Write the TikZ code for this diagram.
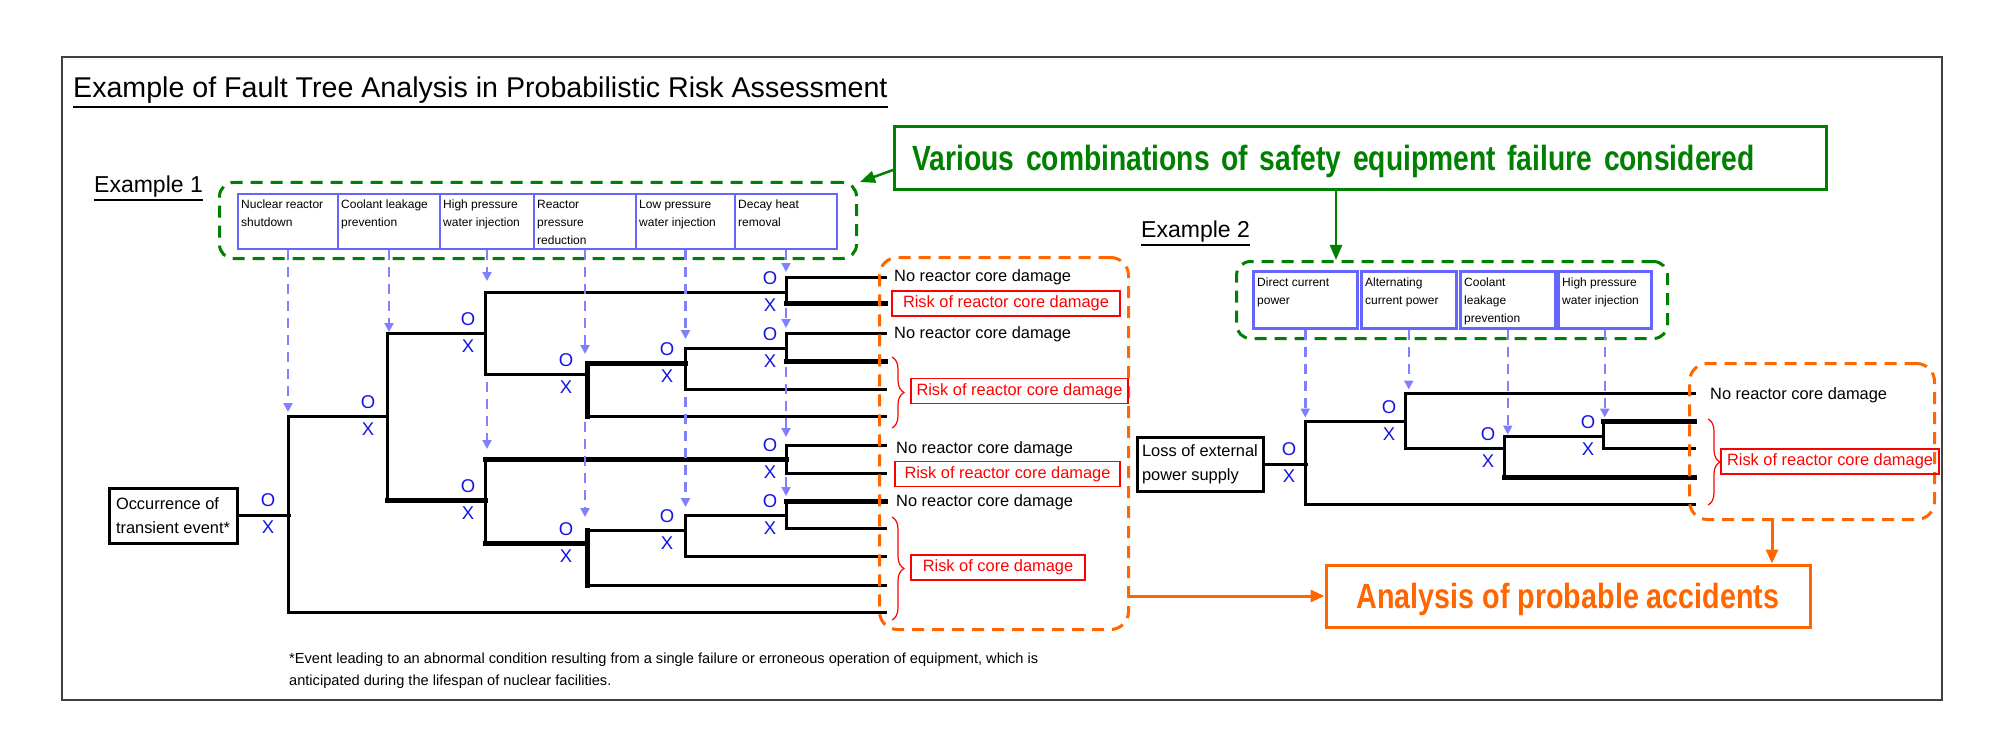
\documentclass[tikz,border=0pt]{standalone}
\usepackage{fontspec}
\setmainfont{Liberation Sans}
\newfontfamily\narrowfont[FakeStretch=0.82]{Liberation Sans}
\newfontfamily\bannerfont[FakeStretch=0.807]{Liberation Sans}
\usetikzlibrary{arrows.meta,decorations.pathreplacing,calc}
\definecolor{boxblue}{RGB}{102,102,255}
\definecolor{oxblue}{RGB}{20,20,230}
\definecolor{arrblue}{RGB}{128,128,255}
\definecolor{dgreen}{RGB}{0,128,0}
\definecolor{orng}{RGB}{255,102,0}
\definecolor{framec}{RGB}{64,64,64}
\newcommand\OXpair[3]{\node[ox] (#1o) at (#2,#3-14) {O};\node[ox] (#1x) at (#2,#3+13) {X};}
\begin{document}
\begin{tikzpicture}[x=1pt,y=-1pt,
  tree/.style={line width=3pt,line cap=rect},
  heavy/.style={line width=5pt,line cap=rect},
  ox/.style={text=oxblue,font=\fontsize{18.5}{18.5}\selectfont,inner sep=0pt},
  barr/.style={draw=arrblue,line width=2.5pt,dash pattern=on 10pt off 7pt,-{Triangle[length=9pt,width=9pt]}},
  bbox/.style={draw=boxblue,line width=2pt,anchor=north west,minimum height=55pt,inner sep=0pt},
  cbox/.style={draw=boxblue,line width=2.5pt,anchor=north west,minimum height=57pt,inner sep=0pt},
  btxt/.style={anchor=north west,align=left,inner sep=0pt,font=\fontsize{12}{18}\selectfont},
  lab/.style={anchor=base west,inner sep=0pt,font=\fontsize{16.4}{20}\selectfont},
  rbox/.style={draw=red,line width=1.5pt,text=red,inner sep=0pt,minimum height=25pt,font=\fontsize{16.4}{20}\selectfont},
  gdash/.style={draw=dgreen,line width=3pt,dash pattern=on 12pt off 8pt,rounded corners=14pt,anchor=north west,inner sep=0pt},
  odash/.style={draw=orng,line width=3pt,dash pattern=on 12pt off 8pt,rounded corners=18pt,anchor=north west,inner sep=0pt},
  brc/.style={draw=red,line width=1.2pt,decorate,decoration={brace,amplitude=12pt}},
  blkbox/.style={draw,line width=3pt,align=left,inner sep=0pt,font=\fontsize{16.4}{24}\selectfont},
  garr/.style={draw=dgreen,line width=2.5pt,-{Triangle[length=15pt,width=12pt]}},
  oarr/.style={draw=orng,line width=3pt,-{Triangle[length=14pt,width=12pt]}},
  uline/.style={line width=1.8pt}
]
\useasboundingbox (0,0) rectangle (2000,754);
\fill[white] (0,0) rectangle (2000,754);
\draw[framec,line width=2.5pt] (62,57) rectangle (1942,700);

% ---------- headings ----------
\node[anchor=base west,inner sep=0pt,font=\fontsize{28.6}{34}\selectfont] (title) at (73,98) {Example of Fault Tree Analysis in Probabilistic Risk Assessment};
\draw[uline] ($(title.south west)+(0,3)$) -- ($(title.south east)+(0,3)$);
\node[anchor=base west,inner sep=0pt,font=\fontsize{23}{28}\selectfont] (ex1) at (94,193) {Example 1};
\draw[uline] ($(ex1.south west)+(0,2)$) -- ($(ex1.south east)+(0,2)$);
\node[anchor=base west,inner sep=0pt,font=\fontsize{23}{28}\selectfont] (ex2) at (1141,238) {Example 2};
\draw[uline] ($(ex2.south west)+(0,2)$) -- ($(ex2.south east)+(0,2)$);

% ---------- banner ----------
\node[draw=dgreen,line width=3pt,anchor=north west,minimum height=63pt,text width=896pt,inner xsep=18pt,inner ysep=0pt,align=left,text depth=0pt,text=dgreen,font=\bannerfont\bfseries\fontsize{35}{40}\selectfont] (banner) at (893,125) {\mbox{Various combinations of safety equipment failure considered}};

% ---------- example 1 boxes ----------
\node[gdash,minimum width=637pt,minimum height=76pt] (g1) at (218,181) {};
\node[bbox,minimum width=100pt] (b1) at (237,193) {};
\node[bbox,minimum width=102pt] (b2) at (337,193) {};
\node[bbox,minimum width=94pt]  (b3) at (439,193) {};
\node[bbox,minimum width=102pt] (b4) at (533,193) {};
\node[bbox,minimum width=99pt]  (b5) at (635,193) {};
\node[bbox,minimum width=102pt] (b6) at (734,193) {};
\node[btxt] (t1) at ($(b1.north west)+(4,7)$) {Nuclear reactor\\shutdown};
\node[btxt] (t2) at ($(b2.north west)+(4,7)$) {Coolant leakage\\prevention};
\node[btxt] (t3) at ($(b3.north west)+(4,7)$) {High pressure\\water injection};
\node[btxt] (t4) at ($(b4.north west)+(4,7)$) {Reactor\\pressure\\reduction};
\node[btxt] (t5) at ($(b5.north west)+(4,7)$) {Low pressure\\water injection};
\node[btxt] (t6) at ($(b6.north west)+(4,7)$) {Decay heat\\removal};

% ---------- example 1 tree ----------
\node[blkbox,minimum width=128pt,minimum height=55pt] (occ) at (173,515.5) {Occurrence of\\transient event*};
\draw[tree] (occ.east) -- ++(51,0);
\draw[tree] (288,416) -- (288,612);
\draw[tree] (288,416) -- (387,416);
\draw[tree] (288,612) -- (885,612);
\draw[tree] (387,333) -- (387,500);
\draw[tree] (387,333) -- (485,333);
\draw[tree] (485,292) -- (485,374);
\draw[tree] (485,292) -- (786,292);
\draw[tree] (485,374) -- (587,374);
\draw[tree] (587,416) -- (885,416);
\draw[tree] (685,348) -- (685,389);
\draw[tree] (685,348) -- (786,348);
\draw[tree] (685,389) -- (885,389);
\draw[tree] (786,277) -- (786,303);
\draw[tree] (786,277) -- (885,277);
\draw[tree] (786,333) -- (786,361);
\draw[tree] (786,333) -- (885,333);
\draw[tree] (485,459) -- (485,543);
\draw[tree] (786,445) -- (786,473);
\draw[tree] (786,445) -- (885,445);
\draw[tree] (786,473) -- (885,473);
\draw[tree] (587,530) -- (685,530);
\draw[tree] (587,585) -- (885,585);
\draw[tree] (685,515) -- (685,556);
\draw[tree] (685,515) -- (786,515);
\draw[tree] (685,556) -- (885,556);
\draw[tree] (786,501) -- (786,528);
\draw[tree] (786,528) -- (885,528);
\draw[heavy] (387,500) -- (485,500);
\draw[heavy] (587,363) -- (587,416);
\draw[heavy] (587,363) -- (685,363);
\draw[heavy] (485,459) -- (786,459);
\draw[heavy] (485,543) -- (587,543);
\draw[heavy] (587,530) -- (587,585);
\draw[heavy] (786,303) -- (885,303);
\draw[heavy] (786,361) -- (885,361);
\draw[heavy] (786,501) -- (885,501);

\OXpair{r}{268}{514}
\OXpair{a}{368}{416}
\OXpair{ba}{468}{333}
\OXpair{bb}{468}{500}
\OXpair{ca}{566}{374}
\OXpair{cb}{566}{543}
\OXpair{da}{667}{363}
\OXpair{db}{667}{530}
\OXpair{ea}{770}{292}
\OXpair{eb}{770}{348}
\OXpair{ec}{770}{459}
\OXpair{ed}{770}{515}

% blue dashed arrows example 1
\draw[barr] (b1.south) -- ++(0,162);
\draw[barr] (b2.south) -- ++(0,82);
\draw[barr] (b3.south) -- ++(0,31);
\draw[barr] ($(b3.south)+(0,132)$) -- ++(0,67);
\draw[barr] (b4.south) -- ++(0,104);
\draw[barr] ($(b4.south)+(0,172)$) -- ++(0,95);
\draw[barr] (b5.south) -- ++(0,89);
\draw[barr] ($(b5.south)+(0,147)$) -- ++(0,110);
\draw[barr] (b6.south) -- ++(0,22);
\draw[barr] ($(b6.south)+(0,58)$) -- ++(0,20);
\draw[barr] ($(b6.south)+(0,117)$) -- ++(0,70);
\draw[barr] ($(b6.south)+(0,227)$) -- ++(0,19);

% outcomes example 1
\node[odash,minimum width=249pt,minimum height=372pt] (o1) at (878,256) {};
\node[lab] (n1) at (894,281) {No reactor core damage};
\node[rbox,minimum width=228pt] (r1) at (1006,303.5) {Risk of reactor core damage};
\node[lab] (n2) at (894,338) {No reactor core damage};
\draw[brc] (892,357) -- (892,428);
\node[rbox,minimum width=217pt] (r2) at (1019.5,391) {Risk of reactor core damage};
\node[lab] (n3) at (896,453) {No reactor core damage};
\node[rbox,minimum width=225pt] (r3) at (1007.5,474) {Risk of reactor core damage};
\node[lab] (n4) at (896,506) {No reactor core damage};
\draw[brc] (892,517) -- (892,620);
\node[rbox,minimum width=174pt] (r4) at (998,567.5) {Risk of core damage};

% ---------- example 2 ----------
\node[gdash,minimum width=431pt,minimum height=77pt] (g2) at (1235,260) {};
\node[cbox,minimum width=104pt] (c1) at (1252,270) {};
\node[cbox,minimum width=95pt]  (c2) at (1360,270) {};
\node[cbox,minimum width=95pt]  (c3) at (1459,270) {};
\node[cbox,minimum width=93pt]  (c4) at (1557,270) {};
\node[btxt] (s1) at ($(c1.north west)+(5,8)$) {Direct current\\power};
\node[btxt] (s2) at ($(c2.north west)+(5,8)$) {Alternating\\current power};
\node[btxt] (s3) at ($(c3.north west)+(5,8)$) {Coolant\\leakage\\prevention};
\node[btxt] (s4) at ($(c4.north west)+(5,8)$) {High pressure\\water injection};

\node[blkbox,minimum width=126pt,minimum height=54pt] (loss) at (1200,464) {Loss of external\\power supply};
\draw[tree] (loss.east) -- ++(42,0);
\draw[tree] (1305,421) -- (1305,504);
\draw[tree] (1305,421) -- (1405,421);
\draw[tree] (1305,504) -- (1694,504);
\draw[tree] (1405,393) -- (1405,448);
\draw[tree] (1405,393) -- (1694,393);
\draw[tree] (1405,448) -- (1504,448);
\draw[tree] (1504,436) -- (1504,477);
\draw[tree] (1504,436) -- (1603,436);
\draw[tree] (1603,421) -- (1603,448);
\draw[tree] (1603,448) -- (1694,448);
\draw[heavy] (1504,477) -- (1694,477);
\draw[heavy] (1603,421) -- (1694,421);

\OXpair{pr}{1289}{463}
\OXpair{pa}{1389}{421}
\OXpair{pb}{1488}{448}
\OXpair{pc}{1588}{436}

\draw[barr] (c1.south) -- ++(0,88);
\draw[barr] (c2.south) -- ++(0,60);
\draw[barr] (c3.south) -- ++(0,105);
\draw[barr] (c4.south) -- ++(0,88);

\node[odash,minimum width=245pt,minimum height=156pt] (o2) at (1688,362) {};
\node[lab] (n5) at (1710,399) {No reactor core damage};
\draw[brc] (1708,419) -- (1708,505);
\node[rbox,minimum width=218pt] (r5) at (1830,461.5) {Risk of reactor core damage};

% ---------- analysis ----------
\node[draw=orng,line width=3pt,minimum width=484pt,minimum height=62pt,inner sep=0pt,text depth=0pt,text=orng,font=\narrowfont\bfseries\fontsize{35}{40}\selectfont] (ana) at (1568,596) {Analysis of probable accidents};
\draw[oarr] (o1.east |- ana.west) -- (ana.west);
\coordinate (oa) at (1772,518);
\draw[oarr] (oa) -- (oa |- ana.north);

% ---------- green arrows ----------
\draw[garr] ($(banner.south west)+(0,-21)$) -- ($(g1.north east)+(2,1)$);
\coordinate (ga) at (1336,188);
\draw[garr] (ga) -- (ga |- g2.north);

% ---------- footnote ----------
\node[anchor=base west,inner sep=0pt,font=\fontsize{14.6}{22}\selectfont] (f1) at (289,663) {*Event leading to an abnormal condition resulting from a single failure or erroneous operation of equipment, which is};
\node[anchor=base west,inner sep=0pt,font=\fontsize{14.6}{22}\selectfont] (f2) at (289,685) {anticipated during the lifespan of nuclear facilities.};
\end{tikzpicture}
\end{document}
